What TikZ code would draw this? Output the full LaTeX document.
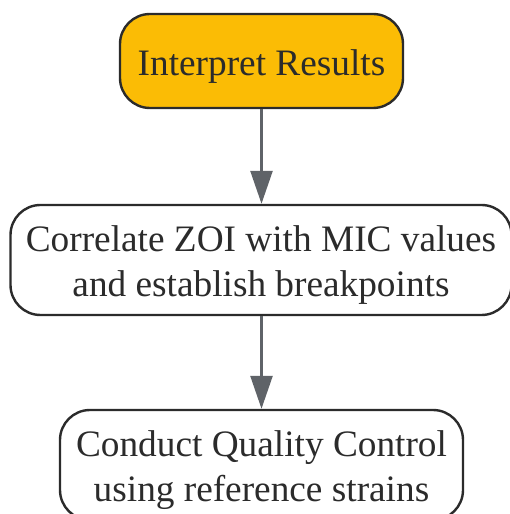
\documentclass[tikz,border=0pt]{standalone}
\usepackage{fontspec}
\setmainfont{Liberation Serif}
\usetikzlibrary{arrows.meta}
\definecolor{gold}{HTML}{FBBC05}
\definecolor{edgegray}{HTML}{5F6368}
\definecolor{ink}{HTML}{2B2B2B}
\tikzset{
  stepbox/.style={draw=ink, line width=2.4pt, rounded corners=30pt, inner sep=0pt},
  steptext/.style={align=center, text=ink, font=\fontsize{37.3}{45}\selectfont, inner sep=0pt},
  flow/.style={draw=edgegray, line width=2.5pt, -{Triangle[length=33pt,width=22pt]}}
}
\begin{document}
\begin{tikzpicture}[x=1pt,y=1pt]
\useasboundingbox (0,0) rectangle (509,514);
\node[stepbox, fill=gold, minimum width=283pt, minimum height=94pt] (a) at (261.5,453) {};
\node[steptext] (at) at ([yshift=-5.5pt]a.center) {Interpret Results};
\node[stepbox, fill=white, minimum width=501pt, minimum height=110pt] (b) at (261,254) {};
\node[steptext] (bt) at ([yshift=-5.5pt]b.center) {Correlate ZOI with MIC values\\and establish breakpoints};
\node[stepbox, fill=white, minimum width=403pt, minimum height=110pt] (c) at (261.5,49) {};
\node[steptext] (ct) at ([yshift=-5.5pt]c.center) {Conduct Quality Control\\using reference strains};
\draw[flow] (a.south -| 261.5,0) -- (261.5,0 |- b.north);
\draw[flow] (b.south -| 261.5,0) -- (261.5,0 |- c.north);
\end{tikzpicture}
\end{document}
